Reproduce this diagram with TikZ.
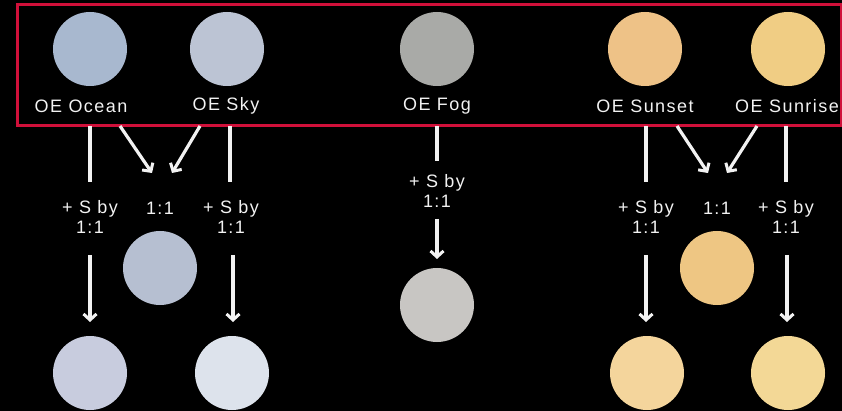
\documentclass[tikz,border=0pt]{standalone}
\usepackage{fontspec}
\newfontfamily\labfont[LetterSpace=8]{Liberation Sans}
\usetikzlibrary{arrows.meta}
\definecolor{boxred}{HTML}{D0103A}
\definecolor{txt}{HTML}{F2F2F2}
\definecolor{cOcean}{HTML}{A8B8CF}
\definecolor{cSky}{HTML}{BCC4D4}
\definecolor{cFog}{HTML}{A9AAA7}
\definecolor{cSunset}{HTML}{EEC287}
\definecolor{cSunrise}{HTML}{F0CD84}
\definecolor{cMixB}{HTML}{B6BFD1}
\definecolor{cOceanS}{HTML}{C8CCDE}
\definecolor{cSkyS}{HTML}{DDE3EC}
\definecolor{cFogS}{HTML}{C8C6C3}
\definecolor{cMixY}{HTML}{EEC683}
\definecolor{cSunsetS}{HTML}{F4D59C}
\definecolor{cSunriseS}{HTML}{F3D896}
\tikzset{
  ball/.style={circle, minimum size=74pt, inner sep=0pt},
  lab/.style={text=txt, font=\labfont\fontsize{18}{19.5}\selectfont, inner sep=0pt, align=center},
  conn/.style={draw=txt, line width=3.2pt},
  arr/.style={conn, -{Straight Barb[length=6pt,width=13pt,line width=3pt]}},
}
\begin{document}
\begin{tikzpicture}[x=1pt,y=-1pt]
\fill[black] (0,0) rectangle (842,411);
\useasboundingbox (0,0) rectangle (842,411);
\node[draw=boxred, line width=3pt, minimum width=824pt, minimum height=121pt, inner sep=0pt] (box) at (429,65.5) {};

% top row
\node[ball, fill=cOcean] (ocean) at (90,49) {};
\node[ball, fill=cSky] (sky) at (227,49) {};
\node[ball, fill=cFog] (fog) at (437,49) {};
\node[ball, fill=cSunset] (sunset) at (645,49) {};
\node[ball, fill=cSunrise] (sunrise) at (788,49) {};
\node[lab] (lOcean) at (81,106) {OE Ocean};
\node[lab] (lSky) at (226,106) {OE Sky};
\node[lab] (lFog) at (437,106) {OE Fog};
\node[lab] (lSunset) at (645,106) {OE Sunset};
\node[lab] (lSunrise) at (787,106) {OE Sunrise};

% mixing texts
\node[lab] (tOcean) at (90,217) {+ S by\\1:1};
\node[lab] (tSky) at (231,217) {+ S by\\1:1};
\node[lab] (tMixB) at (160,208) {1:1};
\node[lab] (tFog) at (437,191) {+ S by\\1:1};
\node[lab] (tSunset) at (646,217) {+ S by\\1:1};
\node[lab] (tSunrise) at (786,217) {+ S by\\1:1};
\node[lab] (tMixY) at (717,208) {1:1};

% result balls
\node[ball, fill=cMixB] (mixB) at (160,268) {};
\node[ball, fill=cOceanS] (oceanS) at (90,373) {};
\node[ball, fill=cSkyS] (skyS) at (232,373) {};
\node[ball, fill=cFogS] (fogS) at (437,305) {};
\node[ball, fill=cMixY] (mixY) at (717,268) {};
\node[ball, fill=cSunsetS] (sunsetS) at (647,373) {};
\node[ball, fill=cSunriseS] (sunriseS) at (788,373) {};

% connector end points
\coordinate (o1) at (90,126);   \coordinate (o2) at (90,182);
\coordinate (o3) at (90,255);   \coordinate (o4) at (90,322);
\coordinate (s1) at (230,126);  \coordinate (s2) at (230,182);
\coordinate (s3) at (233,255);  \coordinate (s4) at (233,322);
\coordinate (d1) at (120,126);  \coordinate (d2) at (152,173);
\coordinate (d3) at (200,126);  \coordinate (d4) at (172,173);
\coordinate (f1) at (437,126);  \coordinate (f2) at (437,161);
\coordinate (f3) at (437,219);  \coordinate (f4) at (437,259);
\coordinate (u1) at (646,126);  \coordinate (u2) at (646,182);
\coordinate (u3) at (646,255);  \coordinate (u4) at (646,322);
\coordinate (r1) at (786,126);  \coordinate (r2) at (786,182);
\coordinate (r3) at (787,255);  \coordinate (r4) at (787,322);
\coordinate (e1) at (677,126);  \coordinate (e2) at (708,173);
\coordinate (e3) at (757,126);  \coordinate (e4) at (727,173);

\draw[conn] (o1) -- (o2);  \draw[arr] (o3) -- (o4);
\draw[conn] (s1) -- (s2);  \draw[arr] (s3) -- (s4);
\draw[arr] (d1) -- (d2);   \draw[arr] (d3) -- (d4);
\draw[conn] (f1) -- (f2);  \draw[arr] (f3) -- (f4);
\draw[conn] (u1) -- (u2);  \draw[arr] (u3) -- (u4);
\draw[conn] (r1) -- (r2);  \draw[arr] (r3) -- (r4);
\draw[arr] (e1) -- (e2);   \draw[arr] (e3) -- (e4);
\end{tikzpicture}
\end{document}
